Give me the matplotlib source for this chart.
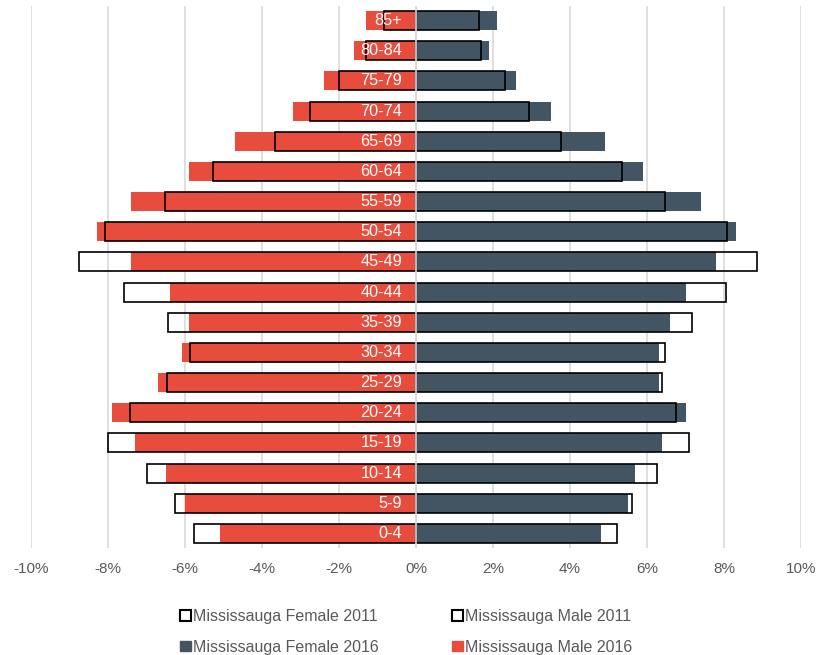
import matplotlib
matplotlib.use("Agg")
import matplotlib.pyplot as plt
from matplotlib.patches import Patch

plt.rcParams['font.family'] = ['Liberation Sans', 'DejaVu Sans']

age_groups = ["0-4", "5-9", "10-14", "15-19", "20-24", "25-29", "30-34", "35-39",
              "40-44", "45-49", "50-54", "55-59", "60-64", "65-69", "70-74",
              "75-79", "80-84", "85+"]
# Left side (shown as negative)
male_2016 = [5.10, 5.99, 6.50, 7.29, 7.89, 6.70, 6.09, 5.89, 6.40, 7.40, 8.29,
             7.39, 5.89, 4.69, 3.20, 2.39, 1.60, 1.29]
male_2011 = [5.76, 6.27, 6.98, 8.01, 7.43, 6.47, 5.88, 6.44, 7.58, 8.75, 8.07,
             6.52, 5.26, 3.67, 2.75, 2.00, 1.31, 0.84]
# Right side
female_2016 = [4.81, 5.51, 5.70, 6.40, 7.00, 6.31, 6.31, 6.59, 7.00, 7.80, 8.30,
               7.40, 5.90, 4.90, 3.50, 2.60, 1.90, 2.11]
female_2011 = [5.23, 5.62, 6.27, 7.09, 6.75, 6.40, 6.48, 7.16, 8.06, 8.85, 8.07,
               6.47, 5.36, 3.77, 2.93, 2.30, 1.68, 1.64]
xticks = [-10, -8, -6, -4, -2, 0, 2, 4, 6, 8, 10]
xtick_labels = ["-10%", "-8%", "-6%", "-4%", "-2%", "0%", "2%", "4%", "6%", "8%", "10%"]

RED = "#E84C3D"
SLATE = "#435563"
GRID = "#D9D9D9"
TXT = "#595959"

fig = plt.figure(figsize=(8.17, 6.55), dpi=100)
ax = fig.add_axes([31/817, 1 - 548/655, 770/817, 542/655])

y = list(range(len(age_groups)))
h = 0.63
ax.barh(y, [-v for v in male_2016], height=h, color=RED, zorder=2, linewidth=0)
ax.barh(y, female_2016, height=h, color=SLATE, zorder=2, linewidth=0)
ax.barh(y, [-v for v in male_2011], height=h, facecolor='none', edgecolor='black',
        linewidth=1.2, zorder=3)
ax.barh(y, female_2011, height=h, facecolor='none', edgecolor='black',
        linewidth=1.2, zorder=3)
ax.axvline(0, color=GRID, lw=1.2, zorder=4)

for yi, lab in zip(y, age_groups):
    ax.text(-0.36, yi, lab, ha='right', va='center', color='white',
            fontsize=11.7, zorder=5)

ax.set_xlim(-10, 10)
ax.set_ylim(-0.48, len(age_groups) - 0.52)
ax.set_xticks(xticks)
ax.set_xticklabels(xtick_labels, color=TXT, fontsize=11)
ax.set_yticks([])
ax.tick_params(axis='x', length=0, pad=10)
ax.grid(axis='x', color=GRID, lw=1.2, zorder=0)
ax.set_axisbelow(True)
for s in ax.spines.values():
    s.set_visible(False)

handles = [
    Patch(facecolor='white', edgecolor='black', linewidth=1.5, label="Mississauga Female 2011"),
    Patch(facecolor=SLATE, edgecolor=SLATE, label="Mississauga Female 2016"),
    Patch(facecolor='white', edgecolor='black', linewidth=1.5, label="Mississauga Male 2011"),
    Patch(facecolor=RED, edgecolor=RED, label="Mississauga Male 2016"),
]
leg = fig.legend(handles=handles, loc='center', bbox_to_anchor=(406.5/817, 1 - 632/655),
                 ncol=2, frameon=False, fontsize=11.5, handlelength=0.65, handleheight=0.65,
                 handletextpad=0.15, columnspacing=4.6, labelspacing=0.95,
                 borderpad=0, borderaxespad=0)
for t in leg.get_texts():
    t.set_color(TXT)

fig.savefig("out.png", dpi=100)
